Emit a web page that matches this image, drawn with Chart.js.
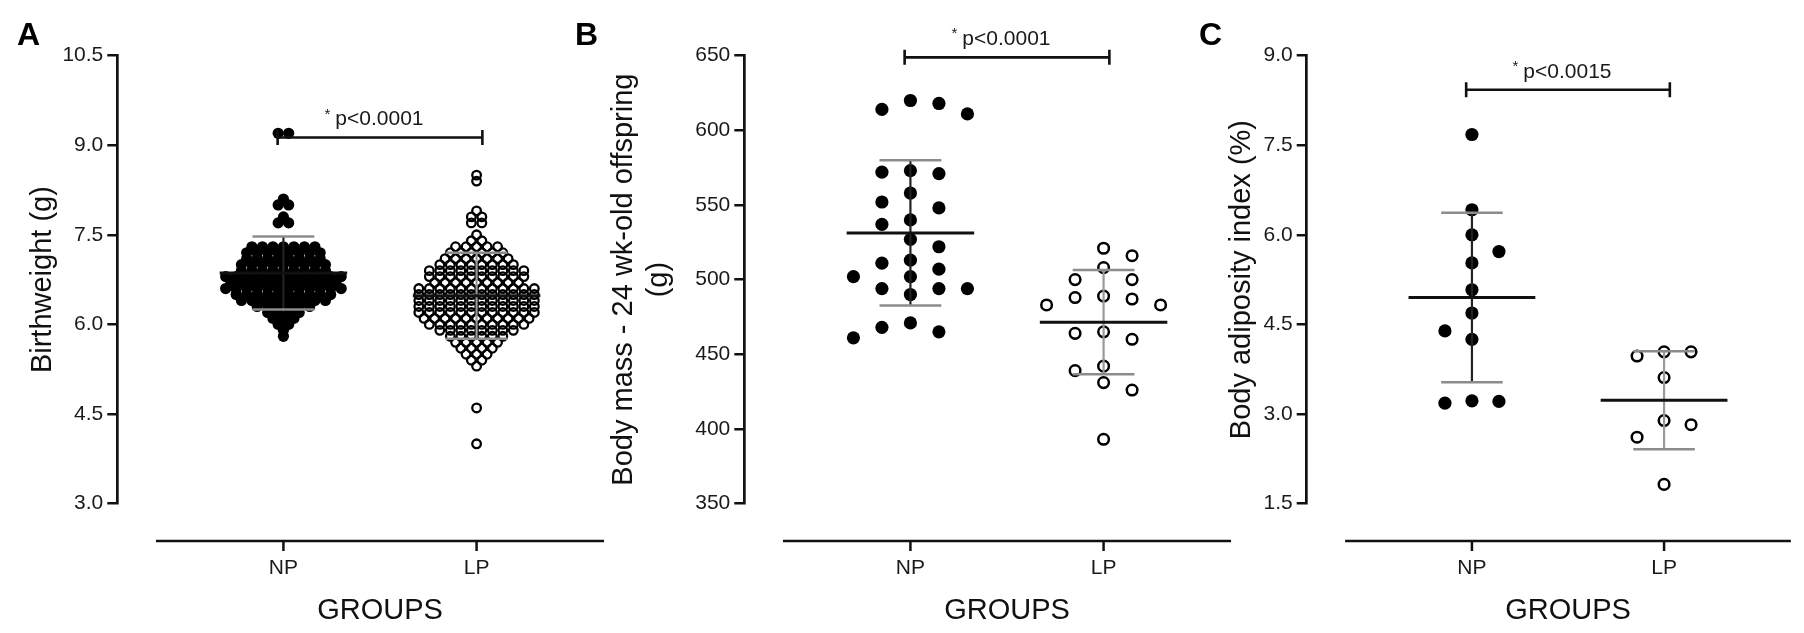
<!DOCTYPE html>
<html><head><meta charset="utf-8">
<script src="https://cdn.jsdelivr.net/npm/chart.js@4.4.1/dist/chart.umd.min.js"></script>
<style>
html,body{margin:0;padding:0;background:#fff;overflow:hidden;width:1804px;height:633px;}
canvas{position:absolute;top:0;}
</style></head><body>
<canvas id="cA" width="660" height="633" style="left:0px"></canvas>
<canvas id="cB" width="725" height="633" style="left:560px"></canvas>
<canvas id="cC" width="670" height="633" style="left:1180px"></canvas>
<script>
// ---------------- DATA ----------------
const groups = ['NP', 'LP'];
const groupX = [1, 2];

const birthweightNP = [
  9.2, 9.2, 8.1, 8.0, 8.0, 7.8, 7.7, 7.7,
  7.3, 7.3, 7.3, 7.3, 7.3, 7.3, 7.3,
  7.2, 7.2, 7.2, 7.2, 7.2, 7.2, 7.2, 7.2,
  7.1, 7.1, 7.1, 7.1, 7.1, 7.1, 7.1, 7.1,
  7.0, 7.0, 7.0, 7.0, 7.0, 7.0, 7.0, 7.0, 7.0,
  6.9, 6.9, 6.9, 6.9, 6.9, 6.9, 6.9, 6.9, 6.9,
  6.8, 6.8, 6.8, 6.8, 6.8, 6.8, 6.8, 6.8, 6.8, 6.8, 6.8, 6.8,
  6.7, 6.7, 6.7, 6.7, 6.7, 6.7, 6.7, 6.7, 6.7, 6.7, 6.7,
  6.6, 6.6, 6.6, 6.6, 6.6, 6.6, 6.6, 6.6, 6.6, 6.6, 6.6, 6.6,
  6.5, 6.5, 6.5, 6.5, 6.5, 6.5, 6.5, 6.5, 6.5, 6.5,
  6.4, 6.4, 6.4, 6.4, 6.4, 6.4, 6.4, 6.4, 6.4,
  6.3, 6.3, 6.3, 6.3, 6.3, 6.3,
  6.2, 6.2, 6.2, 6.2,
  6.1, 6.1, 6.1,
  6.0, 6.0, 5.9, 5.8
];
const birthweightLP = [
  8.5, 8.4, 7.9, 7.8, 7.8, 7.7, 7.7, 7.5, 7.4, 7.4,
  7.3, 7.3, 7.3, 7.3, 7.3,
  7.2, 7.2, 7.2, 7.2, 7.2, 7.2,
  7.1, 7.1, 7.1, 7.1, 7.1, 7.1, 7.1,
  7.0, 7.0, 7.0, 7.0, 7.0, 7.0, 7.0, 7.0,
  6.9, 6.9, 6.9, 6.9, 6.9, 6.9, 6.9, 6.9, 6.9, 6.9,
  6.8, 6.8, 6.8, 6.8, 6.8, 6.8, 6.8, 6.8, 6.8, 6.8,
  6.7, 6.7, 6.7, 6.7, 6.7, 6.7, 6.7, 6.7, 6.7,
  6.6, 6.6, 6.6, 6.6, 6.6, 6.6, 6.6, 6.6, 6.6, 6.6, 6.6, 6.6,
  6.5, 6.5, 6.5, 6.5, 6.5, 6.5, 6.5, 6.5, 6.5, 6.5, 6.5, 6.5,
  6.4, 6.4, 6.4, 6.4, 6.4, 6.4, 6.4, 6.4, 6.4, 6.4, 6.4, 6.4,
  6.3, 6.3, 6.3, 6.3, 6.3, 6.3, 6.3, 6.3, 6.3, 6.3, 6.3, 6.3,
  6.2, 6.2, 6.2, 6.2, 6.2, 6.2, 6.2, 6.2, 6.2, 6.2, 6.2, 6.2,
  6.1, 6.1, 6.1, 6.1, 6.1, 6.1, 6.1, 6.1, 6.1, 6.1, 6.1,
  6.0, 6.0, 6.0, 6.0, 6.0, 6.0, 6.0, 6.0, 6.0, 6.0,
  5.9, 5.9, 5.9, 5.9, 5.9, 5.9, 5.9, 5.9,
  5.8, 5.8, 5.8, 5.8, 5.8, 5.8,
  5.7, 5.7, 5.7, 5.7, 5.7,
  5.6, 5.6, 5.6, 5.6,
  5.5, 5.5, 5.5,
  5.4, 5.4, 5.3, 4.6, 4.0
];
const bodyMassNP = [620, 614, 611, 618, 571, 573, 572, 558, 552, 548, 540, 537, 527, 522,
  513, 511, 507, 502, 502, 490, 494, 494, 494, 471, 468, 465, 461];
const bodyMassLP = [521, 516, 508, 500, 500, 488, 483, 483, 487, 489, 460, 464, 465,
  439, 442, 431, 426, 393];
const adiposityNP = [7.68, 6.42, 6.0, 5.72, 5.53, 5.08, 4.69, 4.39, 4.25, 3.18, 3.22, 3.21];
const adiposityLP = [4.04, 4.04, 3.97, 3.61, 2.89, 2.82, 2.61, 1.82];

const birthweightMean = [6.86, 6.48];
const birthweightSD = [0.61, 0.72];
const bodyMassMean = [531.3, 471.5];
const bodyMassSD = [48.6, 34.9];
const adiposityMean = [4.95, 3.23];
const adipositySD = [1.42, 0.82];

const birthweightTicks = [3.0, 4.5, 6.0, 7.5, 9.0, 10.5];
const bodyMassTicks = [350, 400, 450, 500, 550, 600, 650];
const adiposityTicks = [1.5, 3.0, 4.5, 6.0, 7.5, 9.0];

const pLabels = ['p<0.0001', 'p<0.0001', 'p<0.0015'];
const bracketLevels = [9.13, 648.9, 8.43];

// ---------------- LAYOUT / STYLE ----------------
const FONT = '"Liberation Sans", Arial, Helvetica, sans-serif';
Chart.defaults.font.family = FONT;
const TOP = 55.7, XH = 124.9, PADB = 4.6;
const X_MIN = 0.14, X_MAX = 2.86, AXIS_FROM = 0.34, AXIS_TO = 2.66;
const MEAN_HW = 0.33, CAP_HW = 0.16, BR_OFF = 0.03;

const panels = [
  {canvas:'cA', letter:'A', letterX:17, np:birthweightNP, lp:birthweightLP, mean:birthweightMean, sd:birthweightSD,
   ticks:birthweightTicks, dec:1, title:'Birthweight (g)', p:pLabels[0], bracket:bracketLevels[0],
   padL:25.6, yW:91.7, padR:17.3, mode:'rows', slot:10.5, minDy:3, npR:5.6, lpR:4.3, lpBW:2.3},
  {canvas:'cB', letter:'B', letterX:15, np:bodyMassNP, lp:bodyMassLP, mean:bodyMassMean, sd:bodyMassSD,
   ticks:bodyMassTicks, dec:0, title:['Body mass - 24 wk-old offspring', '(g)'], p:pLabels[1], bracket:bracketLevels[1],
   padL:45.9, yW:138.4, padR:15.3, mode:'swarm', slot:28.5, minDy:16, npR:6.6, lpR:5.3, lpBW:2.5},
  {canvas:'cC', letter:'C', letterX:19, np:adiposityNP, lp:adiposityLP, mean:adiposityMean, sd:adipositySD,
   ticks:adiposityTicks, dec:1, title:'Body adiposity index (%)', p:pLabels[2], bracket:bracketLevels[2],
   padL:44.6, yW:82.1, padR:20.7, mode:'swarm', slot:27, minDy:20, npR:6.6, lpR:5.3, lpBW:2.5}
];

// scatter-dot layouts computed from the values through the chart scales
function swarm(values, center, slotPx, minDyPx, xs, ys) {
  const pxPerX = Math.abs(xs.getPixelForValue(1) - xs.getPixelForValue(0));
  const idx = values.map((v, i) => i).sort((a, b) => values[b] - values[a] || a - b);
  const placed = new Map();
  let plus = 0, minus = 0;
  const out = new Array(values.length);
  for (const i of idx) {
    const py = ys.getPixelForValue(values[i]);
    const free = k => !(placed.get(k) || []).some(q => Math.abs(q - py) < minDyPx);
    let k = 0;
    if (!free(0)) {
      for (let d = 1; d < 200; d++) {
        const order = plus > minus ? [-d, d] : [d, -d];
        const f = order.find(free);
        if (f !== undefined) { k = f; break; }
      }
    }
    if (!placed.has(k)) placed.set(k, []);
    placed.get(k).push(py);
    if (k > 0) plus++; else if (k < 0) minus++;
    out[i] = {x: center + k * slotPx / pxPerX, y: values[i]};
  }
  return out;
}
function rows(values, center, slotPx, minDyPx, xs, ys) {
  const pxPerX = Math.abs(xs.getPixelForValue(1) - xs.getPixelForValue(0));
  const idx = values.map((v, i) => i).sort((a, b) => values[b] - values[a] || a - b);
  const out = new Array(values.length);
  let row = [], rowPy = null;
  const flush = () => {
    const n = row.length;
    row.forEach((i, j) => { out[i] = {x: center + (j - (n - 1) / 2) * slotPx / pxPerX, y: values[i]}; });
    row = [];
  };
  for (const i of idx) {
    const py = ys.getPixelForValue(values[i]);
    if (rowPy !== null && Math.abs(py - rowPy) >= minDyPx) flush();
    if (row.length === 0) rowPy = py;
    row.push(i);
  }
  flush();
  return out;
}

function seg(points, color, width, order) {
  return {data: points, showLine: true, borderColor: color, borderWidth: width, pointRadius: 0,
    pointHoverRadius: 0, fill: false, tension: 0, clip: false, order: order, borderCapStyle: 'butt'};
}

const decor = {
  id: 'decor',
  afterDraw(chart) {
    const o = chart.options.plugins.decor;
    const {ctx, chartArea: ca, scales: {x, y}} = chart;
    ctx.save();
    const ay = ca.bottom + 37.5;
    ctx.strokeStyle = '#111';
    ctx.lineWidth = 2.7;
    ctx.beginPath();
    ctx.moveTo(x.getPixelForValue(AXIS_FROM), ay);
    ctx.lineTo(x.getPixelForValue(AXIS_TO), ay);
    ctx.stroke();
    ctx.lineWidth = 2.5;
    groupX.forEach(g => {
      const px = x.getPixelForValue(g);
      ctx.beginPath(); ctx.moveTo(px, ay); ctx.lineTo(px, ay + 10); ctx.stroke();
    });
    const cx = (x.getPixelForValue(1) + x.getPixelForValue(2)) / 2 - 6;
    const cy = y.getPixelForValue(o.bracket) - 18;
    ctx.fillStyle = '#1a1a1a';
    ctx.textBaseline = 'middle';
    ctx.textAlign = 'left';
    ctx.font = '15px ' + FONT;
    const sw = ctx.measureText('*').width;
    ctx.font = '21px ' + FONT;
    const tw = ctx.measureText(o.p).width;
    const gap = 5;
    const sx = cx - (sw + gap + tw) / 2;
    ctx.font = '15px ' + FONT;
    ctx.fillText('*', sx, cy - 5);
    ctx.font = '21px ' + FONT;
    ctx.fillText(o.p, sx + sw + gap, cy);
    ctx.fillStyle = '#000';
    ctx.font = 'bold 32px ' + FONT;
    ctx.textBaseline = 'alphabetic';
    ctx.fillText(o.letter, o.letterX, 45);
    ctx.restore();
  }
};

panels.forEach(P => {
  const chart = new Chart(document.getElementById(P.canvas), {
    type: 'scatter',
    data: {datasets: []},
    options: {
      responsive: false, animation: false, events: [],
      layout: {padding: {left: P.padL, right: P.padR, top: TOP, bottom: PADB}},
      plugins: {legend: {display: false}, tooltip: {enabled: false},
        decor: {letter: P.letter, letterX: P.letterX, p: P.p, bracket: P.bracket}},
      scales: {
        x: {type: 'linear', min: X_MIN, max: X_MAX,
          afterBuildTicks: s => { s.ticks = groupX.map(v => ({value: v})); },
          afterFit: s => { s.height = XH; },
          grid: {display: false, drawTicks: false, tickLength: 0},
          border: {display: false},
          ticks: {padding: 52, font: {size: 21}, color: '#1a1a1a', autoSkip: false, maxRotation: 0,
            callback: (v, i) => groups[i]},
          title: {display: true, text: 'GROUPS', font: {size: 29}, color: '#111', padding: {top: 0, bottom: 0}}
        },
        y: {type: 'linear', min: P.ticks[0], max: P.ticks[P.ticks.length - 1],
          afterBuildTicks: s => { s.ticks = P.ticks.map(v => ({value: v})); },
          afterFit: s => { s.width = P.yW; },
          grid: {display: true, drawOnChartArea: false, drawTicks: true, tickLength: 10, color: '#111', lineWidth: 2.5},
          border: {display: true, color: '#111', width: 2.7},
          ticks: {padding: 4, font: {size: 21}, color: '#1a1a1a', callback: v => v.toFixed(P.dec)},
          title: {display: true, text: P.title, font: {size: 29, lineHeight: 1.22}, color: '#111', padding: {top: 0, bottom: 0}}
        }
      }
    },
    plugins: [decor]
  });

  const xs = chart.scales.x, ys = chart.scales.y;
  const layout = P.mode === 'rows' ? rows : swarm;
  const pxPerY = Math.abs(ys.getPixelForValue(P.ticks[0]) - ys.getPixelForValue(P.ticks[1])) / Math.abs(P.ticks[1] - P.ticks[0]);
  const ds = [];
  ds.push({label: 'NP', data: layout(P.np, 1, P.slot, P.minDy, xs, ys), pointRadius: P.npR, pointHoverRadius: P.npR,
    backgroundColor: '#000', borderColor: '#000', borderWidth: 0, order: 9});
  ds.push({label: 'LP', data: layout(P.lp, 2, P.slot, P.minDy, xs, ys), pointRadius: P.lpR, pointHoverRadius: P.lpR,
    backgroundColor: 'rgba(0,0,0,0)', borderColor: '#000', borderWidth: P.lpBW, order: 9});
  groupX.forEach((g, i) => {
    const m = P.mean[i], s = P.sd[i];
    ds.push(seg([{x: g, y: m - s}, {x: g, y: m + s}], i === 0 ? '#222' : '#999', 2.2, 4));
    ds.push(seg([{x: g - CAP_HW, y: m + s}, {x: g + CAP_HW, y: m + s}], '#8c8c8c', 2.5, 3));
    ds.push(seg([{x: g - CAP_HW, y: m - s}, {x: g + CAP_HW, y: m - s}], '#8c8c8c', 2.5, 3));
    ds.push(seg([{x: g - MEAN_HW, y: m}, {x: g + MEAN_HW, y: m}], '#111', 3, 2));
  });
  const t = 7.5 / pxPerY, b = P.bracket;
  ds.push(seg([
    {x: 1 - BR_OFF, y: b - t}, {x: 1 - BR_OFF, y: b + t}, {x: 1 - BR_OFF, y: b},
    {x: 2 + BR_OFF, y: b}, {x: 2 + BR_OFF, y: b + t}, {x: 2 + BR_OFF, y: b - t}
  ], '#111', 2.6, 1));
  chart.data.datasets = ds;
  chart.update('none');
});
</script>
</body></html>
